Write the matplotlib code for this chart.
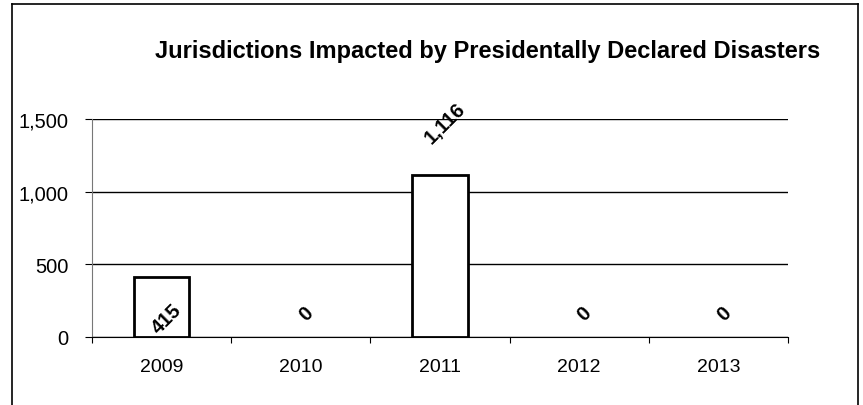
import matplotlib

matplotlib.use("Agg")
import matplotlib.pyplot as plt
import numpy as np
from matplotlib.lines import Line2D
from matplotlib.ticker import FuncFormatter

years = ["2009", "2010", "2011", "2012", "2013"]
jurisdictions = [415, 0, 1116, 0, 0]
label_text = ["415", "0", "1,116", "0", "0"]
label_y = [131, 165, 1473, 165, 165]  # where the scanned chart put each value label

title = "Jurisdictions Impacted by Presidentally Declared Disasters"

plt.rcParams["font.family"] = ["Liberation Sans", "DejaVu Sans"]

fig = plt.figure(figsize=(8.63, 4.06), dpi=100)
ax = fig.add_axes([0.1066, 0.1675, 0.8065, 0.5369])

x = np.arange(len(years))
edges = ["black" if v > 0 else "none" for v in jurisdictions]
ax.bar(x, jurisdictions, width=0.4, color="white", edgecolor=edges, linewidth=2, zorder=3)

for xi, txt, yi in zip(x, label_text, label_y):
    ax.text(xi + 0.04, yi, txt, rotation=45, ha="center", va="center",
            fontsize=14.5, fontweight="heavy", zorder=4)

ax.set_xlim(-0.5, len(years) - 0.5)
ax.set_ylim(0, 1500)
ax.set_yticks([0, 500, 1000, 1500])
ax.yaxis.set_major_formatter(FuncFormatter(lambda v, _: f"{v:,.0f}"))
ax.yaxis.grid(True, color="black", linewidth=1)
ax.set_axisbelow(True)

# category boundaries get the tick marks, the centers get the labels
ax.set_xticks(np.arange(len(years) + 1) - 0.5)
ax.set_xticklabels([])
ax.set_xticks(x, minor=True)
ax.set_xticklabels(years, minor=True)
ax.tick_params(axis="x", which="major", length=4, direction="out", color="black")
ax.tick_params(axis="x", which="minor", length=0, pad=15, labelsize=14)
ax.tick_params(axis="y", length=5, direction="out", labelsize=14.5, pad=12)

for side in ("top", "right"):
    ax.spines[side].set_visible(False)
ax.spines["left"].set_color("#777777")
ax.spines["left"].set_linewidth(0.8)
ax.spines["bottom"].set_color("black")

fig.text(0.565, 0.872, title, ha="center", va="center", fontsize=17, fontweight="bold")

# outer chart frame (bottom edge is cut off in the original)
for xs, ys in [((0.014, 0.014), (0.0, 0.988)),
               ((0.014, 0.994), (0.988, 0.988)),
               ((0.994, 0.994), (0.0, 0.988))]:
    fig.add_artist(Line2D(xs, ys, color="black", linewidth=1.2))

fig.savefig("out.png", dpi=100)
plt.close(fig)
